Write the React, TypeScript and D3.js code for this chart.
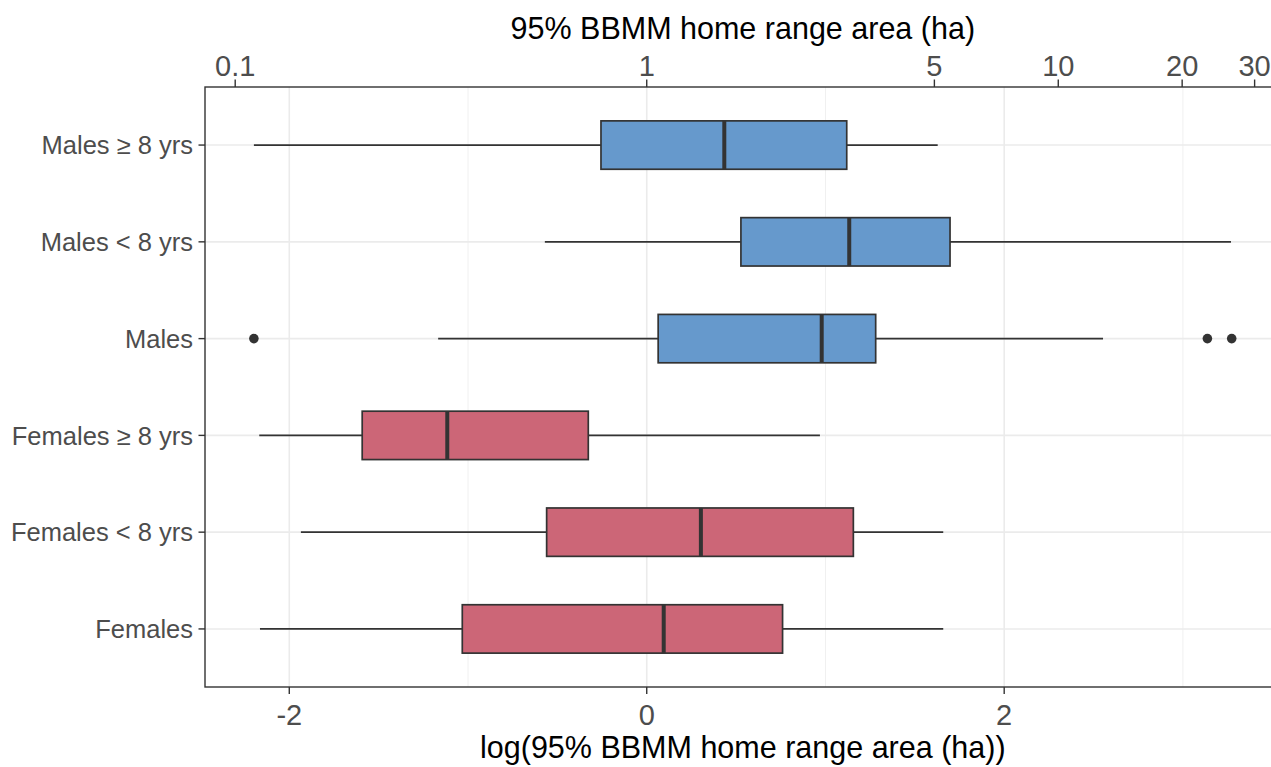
import { useEffect } from "react"
import * as d3 from "d3"

// groups from bottom to top of the panel
const groups = ["Females", "Females < 8 yrs", "Females ≥ 8 yrs", "Males", "Males < 8 yrs", "Males ≥ 8 yrs"]
const sex = ["F", "F", "F", "M", "M", "M"]

// log(95% BBMM home range area) summary per group
const whiskerLow = [-2.164, -1.935, -2.168, -1.167, -0.57, -2.198]
const q1 = [-1.032, -0.56, -1.592, 0.064, 0.527, -0.256]
const median = [0.095, 0.303, -1.116, 0.979, 1.133, 0.434]
const q3 = [0.76, 1.156, -0.327, 1.281, 1.697, 1.119]
const whiskerHigh = [1.659, 1.659, 0.969, 2.553, 3.269, 1.628]
const outliers = [[], [], [], [-2.198, 3.137, 3.273], [], []]

const bottomTicks = [-2, 0, 2]
const minorTicks = [-1, 1, 3]
const topTicks = [0.1, 1, 5, 10, 20, 30]

const fills = { F: "#CC6677", M: "#6699CC" }

const W = 1271
const H = 767
const left = 205
const right = 1280.6
const top = 87
const bottom = 687
const font = "'Liberation Sans', Arial, sans-serif"

export default function App() {
  useEffect(() => {
    document.body.style.margin = "0"
  }, [])

  const all = [...whiskerLow, ...whiskerHigh, ...outliers.flat()]
  const lo = d3.min(all) as number
  const hi = d3.max(all) as number
  const pad = (hi - lo) * 0.05

  const x = d3.scaleLinear().domain([lo - pad, hi + pad]).range([left, right])
  const y = d3.scalePoint().domain(groups).range([bottom, top]).padding(0.6)
  const boxH = y.step() * 0.5

  return (
    <svg width={W} height={H} style={{ display: "block", fontFamily: font }}>
      <rect x={0} y={0} width={W} height={H} fill="#fff" />

      {/* grid */}
      {minorTicks.map((t) => (
        <line key={"mi" + t} x1={x(t)} x2={x(t)} y1={top} y2={bottom} stroke="#F0F0F0" strokeWidth={1} />
      ))}
      {bottomTicks.map((t) => (
        <line key={"ma" + t} x1={x(t)} x2={x(t)} y1={top} y2={bottom} stroke="#EBEBEB" strokeWidth={1.6} />
      ))}
      {groups.map((g) => (
        <line key={"gy" + g} x1={left} x2={right} y1={y(g)} y2={y(g)} stroke="#EBEBEB" strokeWidth={1.6} />
      ))}

      {/* boxes */}
      {groups.map((g, i) => {
        const cy = y(g) as number
        return (
          <g key={g}>
            <line x1={x(whiskerLow[i])} x2={x(q1[i])} y1={cy} y2={cy} stroke="#333" strokeWidth={1.8} />
            <line x1={x(q3[i])} x2={x(whiskerHigh[i])} y1={cy} y2={cy} stroke="#333" strokeWidth={1.8} />
            <rect
              x={x(q1[i])}
              y={cy - boxH / 2}
              width={x(q3[i]) - x(q1[i])}
              height={boxH}
              fill={fills[sex[i]]}
              stroke="#333"
              strokeWidth={1.7}
            />
            <line x1={x(median[i])} x2={x(median[i])} y1={cy - boxH / 2} y2={cy + boxH / 2} stroke="#333" strokeWidth={4} />
            {outliers[i].map((o, j) => (
              <circle key={j} cx={x(o)} cy={cy} r={4.8} fill="#333" />
            ))}
          </g>
        )
      })}

      {/* panel border */}
      <rect x={left} y={top} width={right - left} height={bottom - top} fill="none" stroke="#333" strokeWidth={1.4} />

      {/* y axis */}
      {groups.map((g) => (
        <g key={"yl" + g}>
          <line x1={left - 6.5} x2={left} y1={y(g)} y2={y(g)} stroke="#333" strokeWidth={1.4} />
          <text x={left - 12} y={y(g)} dy="0.36em" textAnchor="end" fontSize={25.5} fill="#4D4D4D">
            {g}
          </text>
        </g>
      ))}

      {/* bottom axis */}
      {bottomTicks.map((t) => (
        <g key={"bt" + t}>
          <line x1={x(t)} x2={x(t)} y1={bottom} y2={bottom + 7} stroke="#333" strokeWidth={1.4} />
          <text x={x(t)} y={725} textAnchor="middle" fontSize={29} fill="#4D4D4D">
            {t < 0 ? "-" + Math.abs(t) : t}
          </text>
        </g>
      ))}
      <text x={(left + right) / 2} y={758} textAnchor="middle" fontSize={30.5} fill="#000">
        log(95% BBMM home range area (ha))
      </text>

      {/* top axis, back-transformed */}
      {topTicks.map((t) => (
        <g key={"tt" + t}>
          <line x1={x(Math.log(t))} x2={x(Math.log(t))} y1={top - 7.5} y2={top} stroke="#333" strokeWidth={1.4} />
          <text x={x(Math.log(t))} y={76} textAnchor="middle" fontSize={29} fill="#4D4D4D">
            {t}
          </text>
        </g>
      ))}
      <text x={(left + right) / 2} y={39} textAnchor="middle" fontSize={30.5} fill="#000">
        95% BBMM home range area (ha)
      </text>
    </svg>
  )
}
